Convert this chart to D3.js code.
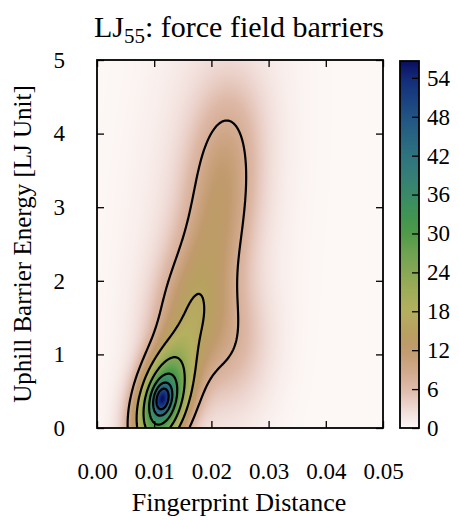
<!DOCTYPE html>
<html>
<head>
<meta charset="utf-8">
<script src="https://cdn.jsdelivr.net/npm/d3@7"></script>
<style>
  body { margin: 0; background: #fff; }
  svg { font-family: "Liberation Serif", serif; }
</style>
</head>
<body>
<svg id="chart" width="459" height="520"></svg>
<script>
// Density blobs (data units): core peak and its body,
// a chain of blobs along the ridge, a right shoulder and a faint broad halo
const peakX   = [0.0114, 0.0114, 0.0145, 0.0163, 0.0179, 0.0203, 0.0215, 0.0222, 0.0229, 0.0238, 0.0238, 0.0195];
const peakY   = [0.40, 0.34, 1.00, 1.50, 2.00, 2.50, 3.00, 3.50, 4.00, 4.50, 1.15, 2.80];
const spreadX = [0.0011, 0.0034, 0.0043, 0.0043, 0.0043, 0.0043, 0.0043, 0.0043, 0.0043, 0.0043, 0.0045, 0.0085];
const spreadY = [0.14, 0.48, 0.45, 0.45, 0.45, 0.45, 0.45, 0.45, 0.45, 0.45, 0.60, 2.50];
const tilt    = [0.2, 0.35, 0, 0, 0, 0, 0, 0, 0, 0, 0, 0.3];
const heights = [18, 36, 3.5, 7.4, 5.3, 5, 4.5, 4.5, 3.2, 1.6, 4.8, 2.7];

const contourLevels = [8, 16, 24, 32, 40, 48];
const colorMax = 56.6;

const xTicks = [0, 0.01, 0.02, 0.03, 0.04, 0.05];
const yTicks = [0, 1, 2, 3, 4, 5];
const cbarTicks = [0, 6, 12, 18, 24, 30, 36, 42, 48, 54];

// gist_earth_r style colour map
const cmapValues = [0, 3, 6, 9, 12, 15, 18, 21, 24, 27, 30, 33, 36, 39, 42, 45, 48, 51, 54, 57];
const cmapColors = ['#fdf8f6', '#efd9d4', '#deb9a8', '#d0a88a', '#c09a6c', '#b8a060', '#b5b060',
  '#a0ad58', '#88a755', '#6ea352', '#4f9a48', '#3f9453', '#3a8a68', '#347e77', '#2e737f',
  '#286482', '#215483', '#1a3f80', '#122a7a', '#080a5a'];

const margin = { left: 97, top: 60, right: 383, bottom: 428 };
const svg = d3.select('#chart');

const x = d3.scaleLinear().domain([0, 0.05]).range([margin.left, margin.right]);
const y = d3.scaleLinear().domain([0, 5]).range([margin.bottom, margin.top]);
const color = d3.scaleLinear().domain(cmapValues).range(cmapColors).interpolate(d3.interpolateRgb).clamp(true);

function density(px, py) {
    let s = 0;
    for (let k = 0; k < peakX.length; k++) {
        const a = (px - peakX[k]) / spreadX[k];
        const b = (py - peakY[k]) / spreadY[k];
        const r = tilt[k];
        s += heights[k] * Math.exp(-(a * a - 2 * r * a * b + b * b) / (2 * (1 - r * r)));
    }
    return s;
}

// Heat map image
const w = margin.right - margin.left, h = margin.bottom - margin.top;
const canvas = document.createElement('canvas');
canvas.width = w; canvas.height = h;
const ctx = canvas.getContext('2d');
const img = ctx.createImageData(w, h);
for (let j = 0; j < h; j++) {
    for (let i = 0; i < w; i++) {
        const c = d3.rgb(color(density(x.invert(margin.left + i + 0.5), y.invert(margin.top + j + 0.5))));
        const o = (j * w + i) * 4;
        img.data[o] = c.r; img.data[o + 1] = c.g; img.data[o + 2] = c.b; img.data[o + 3] = 255;
    }
}
ctx.putImageData(img, 0, 0);

svg.append('clipPath').attr('id', 'plotClip')
    .append('rect').attr('x', margin.left).attr('y', margin.top).attr('width', w).attr('height', h);

svg.append('image')
    .attr('x', margin.left).attr('y', margin.top)
    .attr('width', w).attr('height', h)
    .attr('href', canvas.toDataURL());

// Contours on a grid a bit larger than the axes
const nx = 300, ny = 300;
const gx0 = -0.005, gx1 = 0.055, gy0 = -0.5, gy1 = 5.5;
const sx = (gx1 - gx0) / (nx - 1), sy = (gy1 - gy0) / (ny - 1);
const values = new Float64Array(nx * ny);
for (let j = 0; j < ny; j++)
    for (let i = 0; i < nx; i++)
        values[j * nx + i] = density(gx0 + i * sx, gy0 + j * sy);

const contours = d3.contours().size([nx, ny]).thresholds(contourLevels)(values);
const proj = d3.geoTransform({
    point: function(px, py) {
        this.stream.point(x(gx0 + (px - 0.5) * sx), y(gy0 + (py - 0.5) * sy));
    }
});
svg.append('g').attr('clip-path', 'url(#plotClip)')
    .selectAll('path')
    .data(contours)
    .enter()
    .append('path')
    .attr('d', d3.geoPath(proj))
    .attr('fill', 'none')
    .attr('stroke', '#000')
    .attr('stroke-width', 2.2);

// Axes, ticks pointing inwards
function styleAxis(g) {
    g.select('.domain').remove();
    g.selectAll('line').attr('stroke', '#000').attr('stroke-width', 1.3);
    g.selectAll('text').attr('fill', '#000').style('font-size', '23px').style('font-family', '"Liberation Serif", serif');
}

svg.append('g').attr('transform', `translate(0,${margin.bottom})`)
    .call(d3.axisBottom(x).tickValues(xTicks).tickFormat(d3.format('.2f')).tickSize(-7).tickPadding(35))
    .call(styleAxis);
svg.append('g').attr('transform', `translate(0,${margin.top})`)
    .call(d3.axisTop(x).tickValues(xTicks).tickFormat('').tickSize(-7))
    .call(styleAxis);
svg.append('g').attr('transform', `translate(${margin.left},0)`)
    .call(d3.axisLeft(y).tickValues(yTicks).tickFormat(d3.format('d')).tickSize(-7).tickPadding(32))
    .call(styleAxis);
svg.append('g').attr('transform', `translate(${margin.right},0)`)
    .call(d3.axisRight(y).tickValues(yTicks).tickFormat('').tickSize(-7))
    .call(styleAxis);

svg.append('rect')
    .attr('x', margin.left).attr('y', margin.top).attr('width', w).attr('height', h)
    .attr('fill', 'none').attr('stroke', '#000').attr('stroke-width', 1.8);

// Colour bar
const cb = { left: 400, right: 419, top: 61, bottom: 428 };
const cy = d3.scaleLinear().domain([0, colorMax]).range([cb.bottom, cb.top]);
const grad = svg.append('defs').append('linearGradient')
    .attr('id', 'cbGrad').attr('x1', 0).attr('y1', 1).attr('x2', 0).attr('y2', 0);
grad.selectAll('stop')
    .data(d3.range(0, 41))
    .enter()
    .append('stop')
    .attr('offset', d => d / 40)
    .attr('stop-color', d => color(d / 40 * colorMax));
svg.append('rect')
    .attr('x', cb.left).attr('y', cb.top).attr('width', cb.right - cb.left).attr('height', cb.bottom - cb.top)
    .attr('fill', 'url(#cbGrad)');
svg.append('g').attr('transform', `translate(${cb.right},0)`)
    .call(d3.axisRight(cy).tickValues(cbarTicks).tickSize(-7).tickPadding(8))
    .call(styleAxis);
svg.append('rect')
    .attr('x', cb.left).attr('y', cb.top).attr('width', cb.right - cb.left).attr('height', cb.bottom - cb.top)
    .attr('fill', 'none').attr('stroke', '#000').attr('stroke-width', 1.8);

// Titles
const title = svg.append('text')
    .attr('x', 239).attr('y', 37)
    .attr('text-anchor', 'middle')
    .style('font-size', '30px');
title.append('tspan').text('LJ');
title.append('tspan').attr('dy', 6).style('font-size', '21px').text('55');
title.append('tspan').attr('dy', -6).text(': force field barriers');

svg.append('text')
    .attr('x', 239).attr('y', 511)
    .attr('text-anchor', 'middle')
    .style('font-size', '26px')
    .text('Fingerprint Distance');

svg.append('text')
    .attr('transform', `translate(31,${(margin.top + margin.bottom) / 2}) rotate(-90)`)
    .attr('text-anchor', 'middle')
    .style('font-size', '25px')
    .text('Uphill Barrier Energy [LJ Unit]');
</script>
</body>
</html>
